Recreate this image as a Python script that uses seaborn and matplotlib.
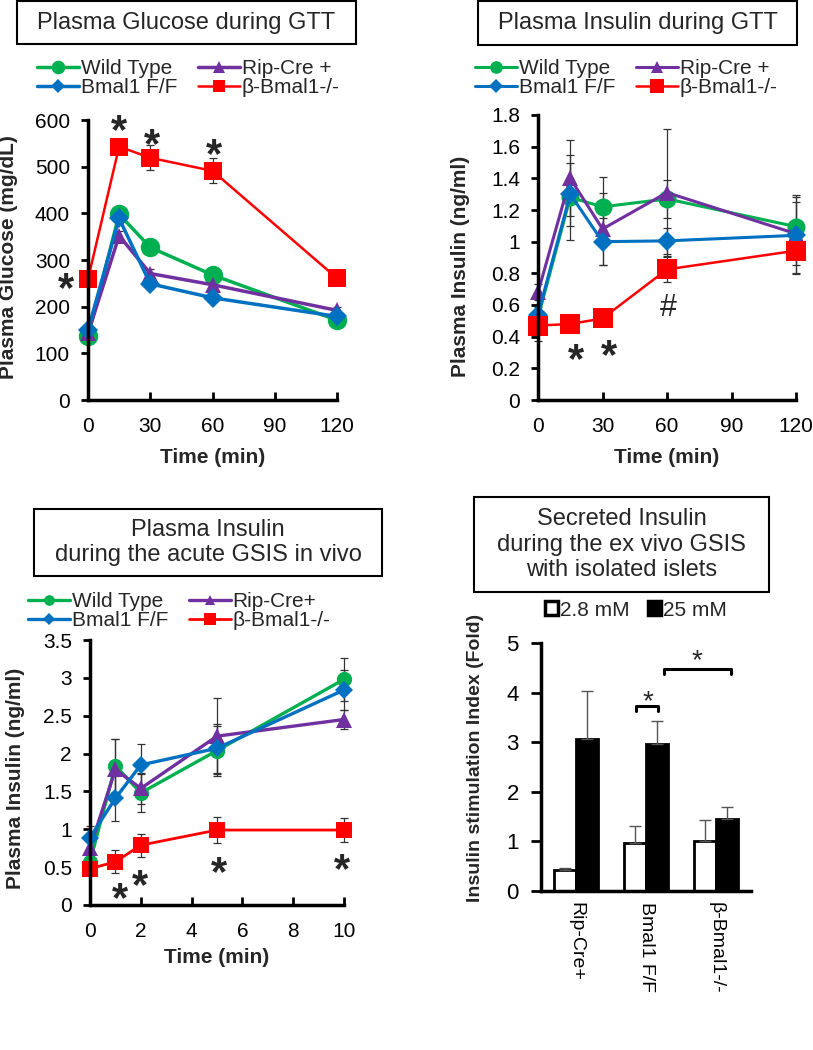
import matplotlib
matplotlib.use("Agg")
import matplotlib.pyplot as plt
from matplotlib.patches import Patch, Rectangle
from matplotlib.ticker import FuncFormatter
import pandas as pd
import seaborn as sns

# ---- Plasma glucose during GTT (mg/dL) ----
GTT_TIME = [0, 15, 30, 60, 120]
GLU_WT = [137, 398, 327, 268, 171]
GLU_RIP = [143, 352, 271, 247, 192]
GLU_FLOX = [150, 389, 249, 219, 179]
GLU_KO = [259, 543, 519, 491, 261]
GLU_WT_ERR = [8, 10, 10, 10, 8]
GLU_RIP_ERR = [8, 10, 10, 10, 8]
GLU_FLOX_ERR = [8, 10, 10, 10, 8]
GLU_KO_ERR = [10, 10, 27, 27, 8]

# ---- Plasma insulin during GTT (ng/ml) ----
INS_WT = [0.52, 1.28, 1.22, 1.27, 1.095]
INS_RIP = [0.68, 1.40, 1.08, 1.31, 1.05]
INS_FLOX = [0.54, 1.30, 1.00, 1.005, 1.04]
INS_KO = [0.47, 0.48, 0.515, 0.825, 0.943]
INS_WT_ERR = [0.05, 0.27, 0.19, 0.12, 0.20]
INS_RIP_ERR = [0.05, 0.24, 0.23, 0.40, 0.20]
INS_FLOX_ERR = [0.05, 0.20, 0.15, 0.08, 0.245]
INS_KO_ERR = [0.10, 0.03, 0.03, 0.08, 0.14]

# ---- Plasma insulin during acute GSIS in vivo (ng/ml) ----
GSIS_TIME = [0, 1, 2, 5, 10]
GSIS_WT = [0.57, 1.84, 1.48, 2.04, 2.98]
GSIS_RIP = [0.75, 1.79, 1.54, 2.23, 2.45]
GSIS_FLOX = [0.89, 1.41, 1.85, 2.07, 2.84]
GSIS_KO = [0.48, 0.57, 0.79, 0.99, 0.99]
GSIS_WT_ERR = [0.10, 0.35, 0.25, 0.33, 0.28]
GSIS_RIP_ERR = [0.10, 0.40, 0.20, 0.50, 0.13]
GSIS_FLOX_ERR = [0.15, 0.30, 0.27, 0.32, 0.26]
GSIS_KO_ERR = [0.05, 0.15, 0.15, 0.17, 0.16]

# ---- Ex vivo GSIS, isolated islets (fold) ----
ISLET_GROUPS = ["Rip-Cre+", "Bmal1 F/F", "β-Bmal1-/-"]
GLUCOSE_LEVELS = ["2.8 mM", "25 mM"]
ISLET_LOW = [0.42, 0.97, 1.00]
ISLET_LOW_ERR = [0.04, 0.34, 0.44]
ISLET_HIGH = [3.06, 2.96, 1.45]
ISLET_HIGH_ERR = [0.98, 0.47, 0.25]

# significance marks (x, y in data units)
GLU_STARS = [(15, 596), (30.7, 568), (60.6, 545), (-10.5, 258)]
INS_STARS = [(17.9, 0.316), (32.9, 0.337)]
INS_HASH = (60.5, 0.60)
GSIS_STARS = [(1.19, 0.20), (1.98, 0.38), (5.09, 0.55), (9.91, 0.59)]
ISLET_BRACKETS = [(0.858, 1.175, 3.72), (1.256, 2.22, 4.48)]
ISLET_STARS = [(1.02, 3.95), (1.73, 4.78)]

GREEN, PURPLE, BLUE, RED = "#00B050", "#7030A0", "#0070C0", "#FF0000"
W, H = 813, 1050

sns.set_theme(style="ticks")
plt.rcParams["font.family"] = ["Liberation Sans", "DejaVu Sans"]
plt.rcParams["axes.edgecolor"] = "black"
plt.rcParams["xtick.color"] = "black"
plt.rcParams["ytick.color"] = "black"


def add_axes_px(fig, left, top, right, bottom):
    return fig.add_axes([left / W, 1 - bottom / H, (right - left) / W, (bottom - top) / H])


def title_box(fig, x0, y0, x1, y1, text):
    fig.add_artist(Rectangle((x0 / W, 1 - y1 / H), (x1 - x0) / W, (y1 - y0) / H,
                             transform=fig.transFigure, fc="white", ec="black", lw=1.5))
    fig.text((x0 + x1) / 2 / W, 1 - (y0 + y1) / 2 / H, text, ha="center", va="center",
             multialignment="center", fontsize=17, linespacing=1.2)


def style_axes(ax, xlim, ylim, xticks, yticks):
    ax.set_xlim(*xlim)
    ax.set_ylim(*ylim)
    ax.set_xticks(xticks)
    ax.set_yticks(yticks)
    ax.yaxis.set_major_formatter(FuncFormatter(lambda v, _: f"{v:g}"))
    sns.despine(ax=ax)
    for side in ("left", "bottom"):
        ax.spines[side].set_linewidth(2.5)
    ax.tick_params(axis="y", direction="out", length=5, width=2, labelsize=15, pad=8)
    ax.tick_params(axis="x", direction="in", length=6, width=2, labelsize=15, pad=12)


def draw_series(ax, t, vals, errs, name, color, marker, ms, lw):
    ax.errorbar(t, vals, yerr=errs, fmt="none", ecolor="#333333", elinewidth=0.9,
                capsize=3, capthick=0.9, zorder=1.5)
    sns.lineplot(x=t, y=vals, color=color, marker=marker, markersize=ms, linewidth=lw,
                 markeredgewidth=0, label=name, errorbar=None, ax=ax)


def line_legend(ax, order, anchor_px):
    handles, labels = ax.get_legend_handles_labels()
    idx = [labels.index(n) for n in order]
    ax.legend([handles[i] for i in idx], [labels[i] for i in idx], ncol=2,
              loc="center left", bbox_to_anchor=(anchor_px[0] / W, 1 - anchor_px[1] / H),
              bbox_transform=ax.figure.transFigure, frameon=False, fontsize=15,
              borderpad=0, borderaxespad=0, handlelength=2.0, handletextpad=0.1,
              columnspacing=1.0, labelspacing=0.0, markerscale=0.7)


def unclip(ax):
    for art in ax.get_children():
        if hasattr(art, "set_clip_on"):
            art.set_clip_on(False)
    for spine in ax.spines.values():
        spine.set_clip_on(True)


def star(ax, x, y, size=30, text="*", weight="bold", drop=0.52):
    ax.annotate(text, (x, y), xytext=(0, -drop * size), textcoords="offset points",
                ha="center", va="baseline", fontsize=size, fontweight=weight,
                annotation_clip=False)


fig = plt.figure(figsize=(W / 100, H / 100), dpi=100)

# ---------- panel A: glucose ----------
ax1 = add_axes_px(fig, 88, 120, 337, 400)
draw_series(ax1, GTT_TIME, GLU_WT, GLU_WT_ERR, "Wild Type", GREEN, "o", 14, 2.5)
draw_series(ax1, GTT_TIME, GLU_RIP, GLU_RIP_ERR, "Rip-Cre +", PURPLE, "^", 12, 2.5)
draw_series(ax1, GTT_TIME, GLU_FLOX, GLU_FLOX_ERR, "Bmal1 F/F", BLUE, "D", 10, 2.5)
draw_series(ax1, GTT_TIME, GLU_KO, GLU_KO_ERR, "β-Bmal1-/-", RED, "s", 13, 1.8)
style_axes(ax1, (0, 120), (0, 600), [0, 30, 60, 90, 120], range(0, 601, 100))
ax1.set_xlabel("Time (min)", fontsize=15, fontweight="bold")
ax1.set_ylabel("Plasma Glucose (mg/dL)", fontsize=15, fontweight="bold")
ax1.yaxis.set_label_coords(-0.281, 0.51)
ax1.xaxis.set_label_coords(0.5, -0.171)
line_legend(ax1, ["Wild Type", "Bmal1 F/F", "Rip-Cre +", "β-Bmal1-/-"], (37, 78))
for x, y in GLU_STARS:
    star(ax1, x, y)
unclip(ax1)
title_box(fig, 17, 1, 356, 44, "Plasma Glucose during GTT")

# ---------- panel B: insulin during GTT ----------
ax2 = add_axes_px(fig, 538, 115, 796, 400)
draw_series(ax2, GTT_TIME, INS_WT, INS_WT_ERR, "Wild Type", GREEN, "o", 13, 2.2)
draw_series(ax2, GTT_TIME, INS_RIP, INS_RIP_ERR, "Rip-Cre +", PURPLE, "^", 12, 2.2)
draw_series(ax2, GTT_TIME, INS_FLOX, INS_FLOX_ERR, "Bmal1 F/F", BLUE, "D", 10, 2.2)
draw_series(ax2, GTT_TIME, INS_KO, INS_KO_ERR, "β-Bmal1-/-", RED, "s", 14, 1.8)
style_axes(ax2, (0, 120), (0, 1.8), [0, 30, 60, 90, 120],
           [0, 0.2, 0.4, 0.6, 0.8, 1.0, 1.2, 1.4, 1.6, 1.8])
ax2.set_xlabel("Time (min)", fontsize=15, fontweight="bold")
ax2.set_ylabel("Plasma Insulin (ng/ml)", fontsize=15, fontweight="bold")
ax2.yaxis.set_label_coords(-0.264, 0.47)
ax2.xaxis.set_label_coords(0.5, -0.168)
line_legend(ax2, ["Wild Type", "Bmal1 F/F", "Rip-Cre +", "β-Bmal1-/-"], (475, 78))
for x, y in INS_STARS:
    star(ax2, x, y)
star(ax2, INS_HASH[0], INS_HASH[1], size=22, text="#", weight="normal", drop=0.36)
unclip(ax2)
title_box(fig, 478, 1, 797, 45, "Plasma Insulin during GTT")

# ---------- panel C: acute GSIS in vivo ----------
ax3 = add_axes_px(fig, 90, 640, 344, 905)
draw_series(ax3, GSIS_TIME, GSIS_WT, GSIS_WT_ERR, "Wild Type", GREEN, "o", 11, 2.4)
draw_series(ax3, GSIS_TIME, GSIS_RIP, GSIS_RIP_ERR, "Rip-Cre+", PURPLE, "^", 11, 2.4)
draw_series(ax3, GSIS_TIME, GSIS_FLOX, GSIS_FLOX_ERR, "Bmal1 F/F", BLUE, "D", 9, 2.4)
draw_series(ax3, GSIS_TIME, GSIS_KO, GSIS_KO_ERR, "β-Bmal1-/-", RED, "s", 12, 2.0)
style_axes(ax3, (0, 10), (0, 3.5), [0, 2, 4, 6, 8, 10], [0, 0.5, 1, 1.5, 2, 2.5, 3, 3.5])
ax3.set_xlabel("Time (min)", fontsize=15, fontweight="bold")
ax3.set_ylabel("Plasma Insulin (ng/ml)", fontsize=15, fontweight="bold")
ax3.yaxis.set_label_coords(-0.256, 0.479)
ax3.xaxis.set_label_coords(0.5, -0.162)
line_legend(ax3, ["Wild Type", "Bmal1 F/F", "Rip-Cre+", "β-Bmal1-/-"], (28, 611))
for x, y in GSIS_STARS:
    star(ax3, x, y)
unclip(ax3)
title_box(fig, 34, 509, 382, 576, "Plasma Insulin\nduring the acute GSIS in vivo")

# ---------- panel D: ex vivo islets ----------
ax4 = add_axes_px(fig, 541, 643, 751, 891)
df4 = pd.DataFrame({
    "genotype": ISLET_GROUPS * 2,
    "glucose": [GLUCOSE_LEVELS[0]] * 3 + [GLUCOSE_LEVELS[1]] * 3,
    "fold": ISLET_LOW + ISLET_HIGH,
})
sns.barplot(data=df4, x="genotype", y="fold", hue="glucose", order=ISLET_GROUPS,
            hue_order=GLUCOSE_LEVELS, palette=["white", "black"], edgecolor="black",
            linewidth=2, width=0.62, errorbar=None, legend=False, saturation=1, ax=ax4)
for bar, err in zip(ax4.patches, ISLET_LOW_ERR + ISLET_HIGH_ERR):
    ax4.errorbar(bar.get_x() + bar.get_width() / 2, bar.get_height(), yerr=[[0], [err]],
                 fmt="none", ecolor="#555555", elinewidth=1, capsize=4, capthick=1)
ax4.set_xlim(-0.5, 2.5)
ax4.set_ylim(0, 5)
ax4.set_yticks(range(0, 6))
sns.despine(ax=ax4)
for side in ("left", "bottom"):
    ax4.spines[side].set_linewidth(2.5)
ax4.tick_params(axis="y", direction="out", length=7, width=2, labelsize=16, pad=9)
ax4.tick_params(axis="x", length=0, labelsize=14, labelrotation=270, pad=8)
ax4.set_xlabel("")
ax4.set_ylabel("Insulin stimulation Index (Fold)", fontsize=14, fontweight="bold")
ax4.yaxis.set_label_coords(-0.271, 0.536)
for x0, x1, y in ISLET_BRACKETS:
    ax4.plot([x0, x0, x1, x1], [y - 0.1, y, y, y - 0.1], color="black", lw=2.2,
             clip_on=False)
for x, y in ISLET_STARS:
    star(ax4, x, y, size=20, weight="normal")
leg_handles = [Patch(fc="white", ec="black", lw=2.5), Patch(fc="black", ec="black", lw=2.5)]
ax4.legend(leg_handles, GLUCOSE_LEVELS, ncol=2, loc="center",
           bbox_to_anchor=(636 / W, 1 - 610 / H), bbox_transform=fig.transFigure,
           frameon=False, fontsize=15, borderpad=0, borderaxespad=0,
           handlelength=0.65, handleheight=0.65, handletextpad=0.1, columnspacing=0.85)
title_box(fig, 474, 497, 769, 592,
          "Secreted Insulin\nduring the ex vivo GSIS\nwith isolated islets")

fig.savefig("out.png", dpi=100)
